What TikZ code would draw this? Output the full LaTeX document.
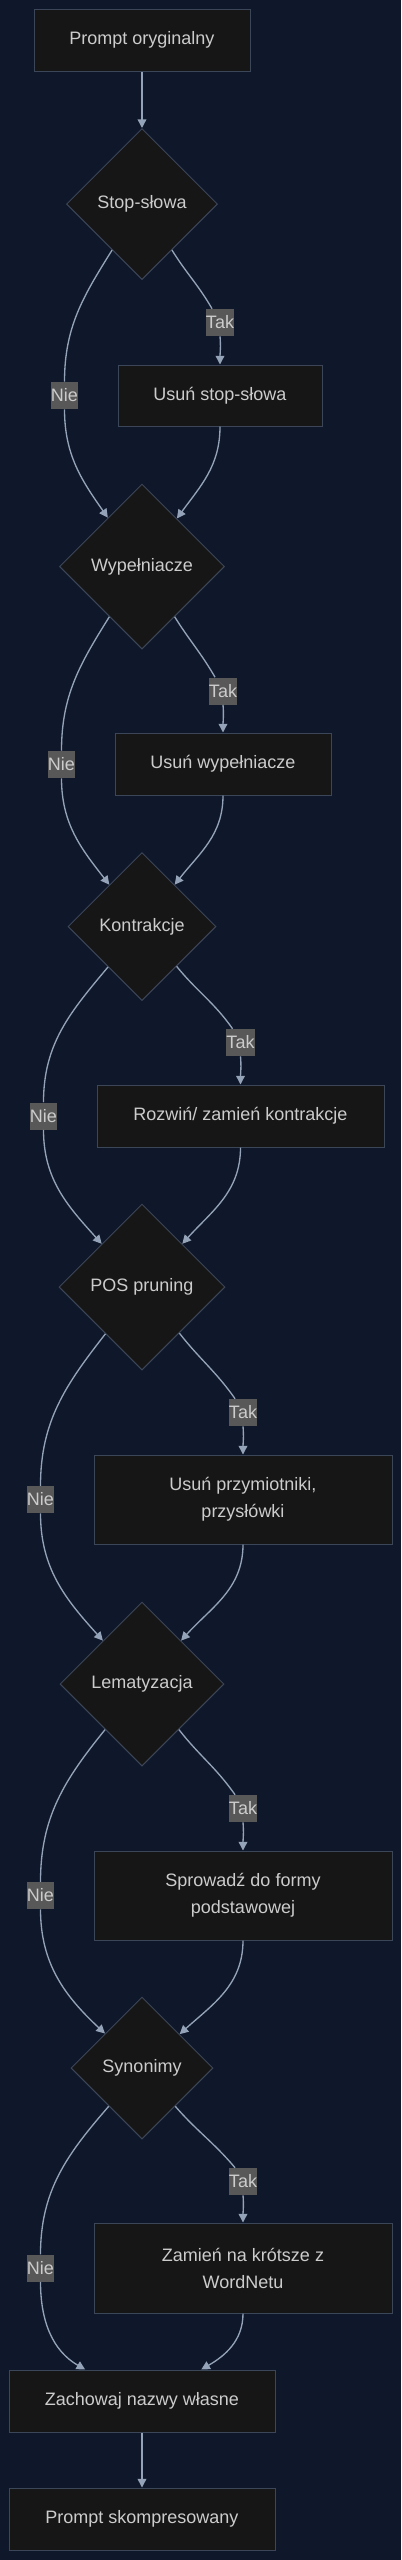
\documentclass[tikz,border=0pt]{standalone}
\usepackage{fontspec}
\setmainfont{Liberation Sans}
\usetikzlibrary{shapes.geometric}
\usetikzlibrary{arrows.meta}
\definecolor{bgnavy}{HTML}{0F172A}
\definecolor{nodefill}{HTML}{161616}
\definecolor{nodeline}{HTML}{3B4658}
\definecolor{flowline}{HTML}{94A3B8}
\definecolor{lblfill}{HTML}{585858}
\definecolor{txtgray}{HTML}{CCCCCC}
\tikzset{
  box/.style 2 args={rectangle,draw=nodeline,line width=0.75pt,fill=nodefill,text=txtgray,align=center,
    inner sep=0pt,minimum width=#1*0.75pt,minimum height=#2*0.75pt,font=\fontsize{13.5pt}{20.25pt}\selectfont},
  dia/.style={diamond,draw=nodeline,line width=0.75pt,fill=nodefill,text=txtgray,
    inner sep=0pt,minimum size=#1*0.75pt,font=\fontsize{13.5pt}{16pt}\selectfont},
  lbl/.style={rectangle,fill=lblfill,text=txtgray,inner xsep=0.3pt,inner ysep=0pt,
    minimum height=20.25pt,font=\fontsize{13.5pt}{16pt}\selectfont},
  flowseg/.style={draw=flowline,line width=1pt},
  flow/.style={flowseg,-{Triangle[length=6.5pt,width=6.5pt]}}
}
\begin{document}
\begin{tikzpicture}[x=0.75pt,y=0.75pt,yscale=-1,xscale=1]
%Background
\fill[bgnavy] (0,0) rectangle (401,2560);

%Shape: Rectangles and Diamonds
\node[box={216}{62}] (orig) at (142,40) {Prompt oryginalny};
\node[dia=151] (stop) at (142,204) {Stop-słowa};
\node[box={204}{61}] (rmstop) at (220,395.5) {Usuń stop-słowa};
\node[dia=165] (filler) at (142,566.5) {Wypełniacze};
\node[box={216}{62}] (rmfill) at (223,764) {Usuń wypełniacze};
\node[dia=148] (contr) at (142,926.5) {Kontrakcje};
\node[box={287}{62}] (expand) at (240.5,1116) {Rozwiń/ zamień kontrakcje};
\node[dia=166] (pos) at (142,1287) {POS pruning};
\node[box={298}{89}] (rmadj) at (243,1499.5) {Usuń przymiotniki,\\przysłówki};
\node[dia=164] (lemma) at (142,1684) {Lematyzacja};
\node[box={298}{89}] (base) at (243,1895.5) {Sprowadź do formy\\podstawowej};
\node[dia=142] (syn) at (142,2068) {Synonimy};
\node[box={298}{90}] (wordnet) at (243,2268) {Zamień na krótsze z\\WordNetu};
\node[box={266}{62}] (keep) at (142,2401) {Zachowaj nazwy własne};
\node[box={266}{62}] (final) at (142,2519) {Prompt skompresowany};

% Text Node
\node[lbl] (tak1) at (220,322.5) {Tak};
\node[lbl] (nie1) at (64.5,395.5) {Nie};
\node[lbl] (tak2) at (223,691) {Tak};
\node[lbl] (nie2) at (61.5,764.5) {Nie};
\node[lbl] (tak3) at (240.5,1042.5) {Tak};
\node[lbl] (nie3) at (43.5,1116) {Nie};
\node[lbl] (tak4) at (243,1412.5) {Tak};
\node[lbl] (nie4) at (40.5,1499.5) {Nie};
\node[lbl] (tak5) at (243,1808.5) {Tak};
\node[lbl] (nie5) at (40.5,1895.5) {Nie};
\node[lbl] (tak6) at (243,2181.5) {Tak};
\node[lbl] (nie6) at (40.5,2268) {Nie};

%Straight Lines
\draw[flow] (orig) -- (stop);
%Curve Lines (y axis is flipped, so out/in angles are mirrored)
\draw[flowseg] (stop.-57) to[out=58,in=-120] (tak1.120);
\draw[flow] (tak1.south) to[out=85,in=-90] (rmstop.north);
\draw[flowseg] (stop.-123) to[out=122,in=-90] (nie1.north);
\draw[flow] (nie1.south) to[out=90,in=-125] (filler.125);
\draw[flow] (rmstop.south) to[out=90,in=-54] (filler.54);
%Curve Lines
\draw[flowseg] (filler.-57) to[out=58,in=-120] (tak2.120);
\draw[flow] (tak2.south) to[out=85,in=-90] (rmfill.north);
\draw[flowseg] (filler.-123) to[out=122,in=-90] (nie2.north);
\draw[flow] (nie2.south) to[out=90,in=-128] (contr.128);
\draw[flow] (rmfill.south) to[out=90,in=-52] (contr.52);
%Curve Lines
\draw[flowseg] (contr.-49) to[out=51,in=-125] (tak3.120);
\draw[flow] (tak3.south) to[out=85,in=-90] (expand.north);
\draw[flowseg] (contr.-130) to[out=130,in=-90] (nie3.north);
\draw[flow] (nie3.south) to[out=90,in=-132] (pos.133);
\draw[flow] (expand.south) to[out=90,in=-48] (pos.47);
%Curve Lines
\draw[flowseg] (pos.-51) to[out=52,in=-125] (tak4.120);
\draw[flow] (tak4.south) to[out=85,in=-90] (rmadj.north);
\draw[flowseg] (pos.-128) to[out=128,in=-90] (nie4.north);
\draw[flow] (nie4.south) to[out=90,in=-132] (lemma.132);
\draw[flow] (rmadj.south) to[out=90,in=-48] (lemma.48);
%Curve Lines
\draw[flowseg] (lemma.-51) to[out=52,in=-125] (tak5.120);
\draw[flow] (tak5.south) to[out=85,in=-90] (base.north);
\draw[flowseg] (lemma.-129) to[out=129,in=-90] (nie5.north);
\draw[flow] (nie5.south) to[out=90,in=-137] (syn.137);
\draw[flow] (base.south) to[out=90,in=-42] (syn.42);
%Curve Lines
\draw[flowseg] (syn.-49) to[out=49,in=-130] (tak6.120);
\draw[flow] (tak6.south) to[out=85,in=-90] (wordnet.north);
\draw[flowseg] (syn.-131) to[out=131,in=-90] (nie6.north);
\draw[flow] (nie6.south) to[out=90,in=-150] (keep.151.5);
\draw[flow] (wordnet.south) to[out=90,in=-30] (keep.28.5);
%Straight Lines
\draw[flow] (keep) -- (final);

\end{tikzpicture}
\end{document}
